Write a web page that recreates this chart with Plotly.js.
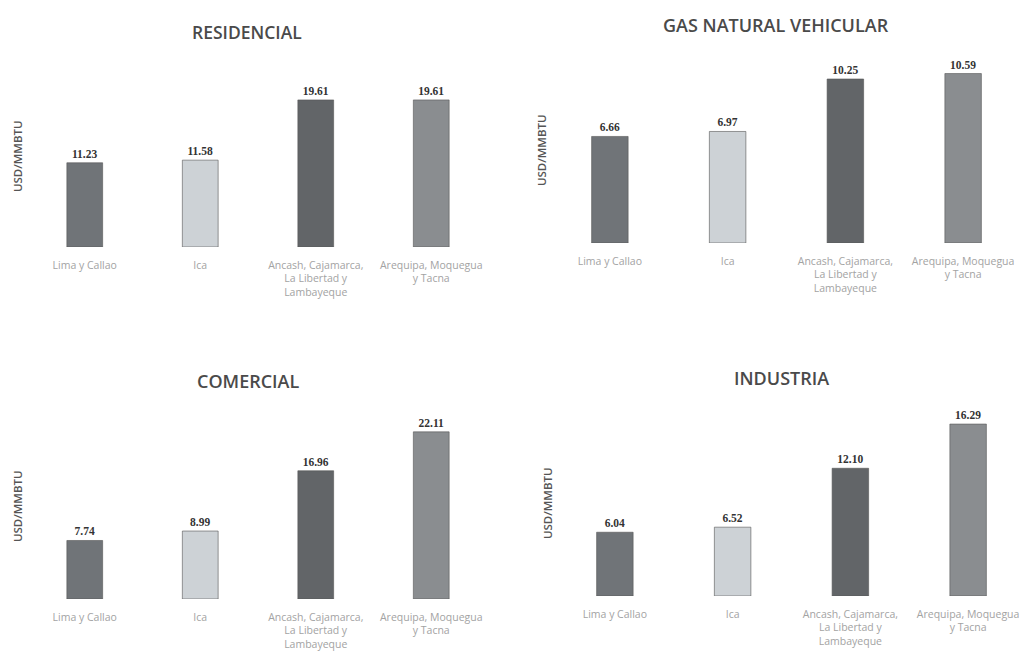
<!DOCTYPE html>
<html>
<head>
<meta charset="utf-8">
<script src="https://cdn.plot.ly/plotly-3.0.1.min.js"></script>
<style>html,body{margin:0;padding:0;background:#fff;}#chart{width:1027px;height:651px;}</style>
</head>
<body>
<div id="chart"></div>
<script>
// ---- data ----
const categories = ["Lima y Callao", "Ica", "Ancash, Cajamarca, La Libertad y Lambayeque", "Arequipa, Moquegua y Tacna"];
const tickLabels = ["Lima y Callao", "Ica", "Ancash, Cajamarca,<br>La Libertad y<br>Lambayeque", "Arequipa, Moquegua<br>y Tacna"];
const panelTitles = ["RESIDENCIAL", "GAS NATURAL VEHICULAR", "COMERCIAL", "INDUSTRIA"];
const residencial = [11.23, 11.58, 19.61, 19.61];
const gnv = [6.66, 6.97, 10.25, 10.59];
const comercial = [7.74, 8.99, 16.96, 22.11];
const industria = [6.04, 6.52, 12.10, 16.29];
const yUnit = "USD/MMBTU";

// ---- style ----
const barColors = ["#707478", "#cdd2d6", "#626568", "#8a8d90"];
const W = 1027, H = 651;
const px = v => v / W;
const py = v => 1 - v / H;

const panels = [
  {vals: residencial, xd: [px(27), px(489)], yd: [py(247), py(59.5)], range: [0, 25], title: [247, 32, 17.5], ytitle: [18, 156]},
  {vals: gnv, xd: [px(551), px(1022)], yd: [py(243), py(51)], range: [0, 12], title: [776, 25, 18], ytitle: [541, 150]},
  {vals: comercial, xd: [px(27), px(489)], yd: [py(599), py(410)], range: [0, 25], title: [248, 381, 18], ytitle: [17, 506]},
  {vals: industria, xd: [px(556), 1.0], yd: [py(596), py(406)], range: [0, 18], title: [781, 378, 18], ytitle: [548, 503]}
];

const data = [];
const layout = {
  width: W, height: H,
  margin: {l: 0, r: 0, t: 0, b: 0},
  paper_bgcolor: "#ffffff", plot_bgcolor: "#ffffff",
  showlegend: false,
  bargap: 0.69,
  annotations: []
};

panels.forEach((p, i) => {
  const n = i === 0 ? "" : String(i + 1);
  data.push({
    type: "bar",
    x: categories,
    y: p.vals,
    xaxis: "x" + n, yaxis: "y" + n,
    marker: {color: barColors, line: {color: "#555555", width: 0.6}},
    text: p.vals.map(v => v.toFixed(2)),
    textposition: "outside",
    cliponaxis: false,
    textfont: {family: "Liberation Serif, DejaVu Serif, serif", size: 11.5, color: "#333333", weight: "bold"},
    hoverinfo: "x+y"
  });
  layout["xaxis" + n] = {
    domain: p.xd, anchor: "y" + n,
    type: "category",
    tickmode: "array", tickvals: categories, ticktext: tickLabels,
    showline: false, showgrid: false, zeroline: false, ticks: "",
    ticklabelstandoff: 10,
    tickfont: {family: "Open Sans, DejaVu Sans, sans-serif", size: 10.5, color: "#a3a3a3"},
    fixedrange: true
  };
  layout["yaxis" + n] = {
    domain: p.yd, anchor: "x" + n,
    range: p.range,
    showticklabels: false, showgrid: false, zeroline: false, showline: false, ticks: "",
    fixedrange: true
  };
  layout.annotations.push({
    xref: "paper", yref: "paper",
    x: px(p.title[0]), y: py(p.title[1]),
    xanchor: "center", yanchor: "middle",
    text: panelTitles[i], showarrow: false,
    font: {family: "Open Sans, Lato, sans-serif", size: p.title[2], color: "#4a4a4a", weight: 600}
  });
  layout.annotations.push({
    xref: "paper", yref: "paper",
    x: px(p.ytitle[0]), y: py(p.ytitle[1]),
    xanchor: "center", yanchor: "middle",
    text: yUnit, showarrow: false, textangle: -90,
    font: {family: "Open Sans, DejaVu Sans, sans-serif", size: 11.5, color: "#555555", weight: 600}
  });
});

Plotly.newPlot("chart", data, layout, {displayModeBar: false, staticPlot: true});
</script>
</body>
</html>
